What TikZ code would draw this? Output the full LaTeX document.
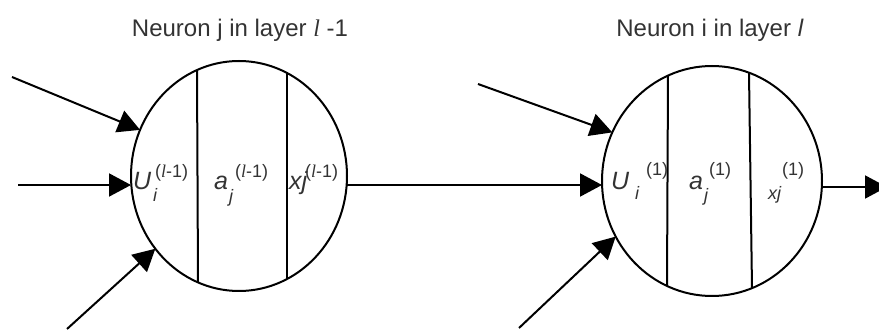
\documentclass[tikz,border=0pt]{standalone}
\usepackage{fontspec}
\setmainfont{Liberation Sans}
\newfontfamily\serf{Liberation Serif}
\usetikzlibrary{arrows.meta,shapes.geometric,calc}
\newcommand\myell{{\serf\itshape l}}
\begin{document}
\begin{tikzpicture}[x=1pt,y=-1pt,
  ln/.style={line width=2pt, black},
  arr/.style={ln, -{Triangle[length=22pt,width=23pt]}},
  cell/.style={draw, ln, ellipse, inner sep=0pt, outer sep=0pt},
  title/.style={font=\fontsize{24}{26}\selectfont, text=black!80, inner sep=0pt, anchor=base},
  big/.style={font=\fontsize{25}{27}\selectfont\itshape, text=black!80, inner sep=0pt, anchor=base west},
  small/.style={font=\fontsize{18}{20}\selectfont\itshape, text=black!80, inner sep=0pt, anchor=base west},
  supr/.style={font=\fontsize{18}{20}\selectfont, text=black!80, inner sep=0pt, anchor=base west}]
\useasboundingbox (0,0) rectangle (879,331);

% titles
\node[title] (t1) at (240,37) {Neuron j in layer \myell\ -1};
\node[title] (t2) at (710,37) {Neuron i in layer \textit{l}};

% neurons
\node[cell, minimum width=216pt, minimum height=230pt] (n1) at (239,176) {};
\node[cell, minimum width=220pt, minimum height=230pt] (n2) at (712,181) {};

% dividers
\draw[ln] ($(n1.center)+(-42,-106)$) -- ($(n1.center)+(-41,106)$);
\draw[ln] ($(n1.center)+(48,-103)$) -- ($(n1.center)+(48,103)$);
\draw[ln] ($(n2.center)+(-44,-105)$) -- ($(n2.center)+(-45,105)$);
\draw[ln] ($(n2.center)+(37,-108)$) -- ($(n2.center)+(40,107)$);

% labels neuron 1
\node[big] (u1) at (133,190) {U};
\node[small] (u1s) at (153,202) {i};
\node[supr] (u1p) at (155,178) {(\myell-1)};
\node[big] (a1) at (214,190) {a};
\node[small] (a1s) at (229,203) {j};
\node[supr] (a1p) at (235,178) {(\myell-1)};
\node[big] (x1) at (289,190) {xj};
\node[supr] (x1p) at (305,178) {(\myell-1)};

% labels neuron 2
\node[big] (u2) at (611,190) {U};
\node[small] (u2s) at (635,200) {i};
\node[supr] (u2p) at (646,176) {(1)};
\node[big] (a2) at (689,190) {a};
\node[small] (a2s) at (704,202) {j};
\node[supr] (a2p) at (709,176) {(1)};
\node[small] (x2) at (768,200) {xj};
\node[supr] (x2p) at (782,176) {(1)};

% connectors
\coordinate (s1) at (12,77);
\coordinate (s2) at (18,185);
\coordinate (s3) at (67,329);
\coordinate (s4) at (478,84);
\coordinate (s5) at (519,328);
\coordinate (o) at (887,187);
\draw[arr] (s1) -- (n1.155);
\draw[arr] (s2) -- (n1.west |- s2);
\draw[arr] (s3) -- (n1.221);
\draw[arr] (n1.east |- s2) -- (n2.west |- s2);
\draw[arr] (s4) -- (n2.154);
\draw[arr] (s5) -- (n2.210);
\draw[arr] (n2.east |- o) -- (o);
\end{tikzpicture}
\end{document}
